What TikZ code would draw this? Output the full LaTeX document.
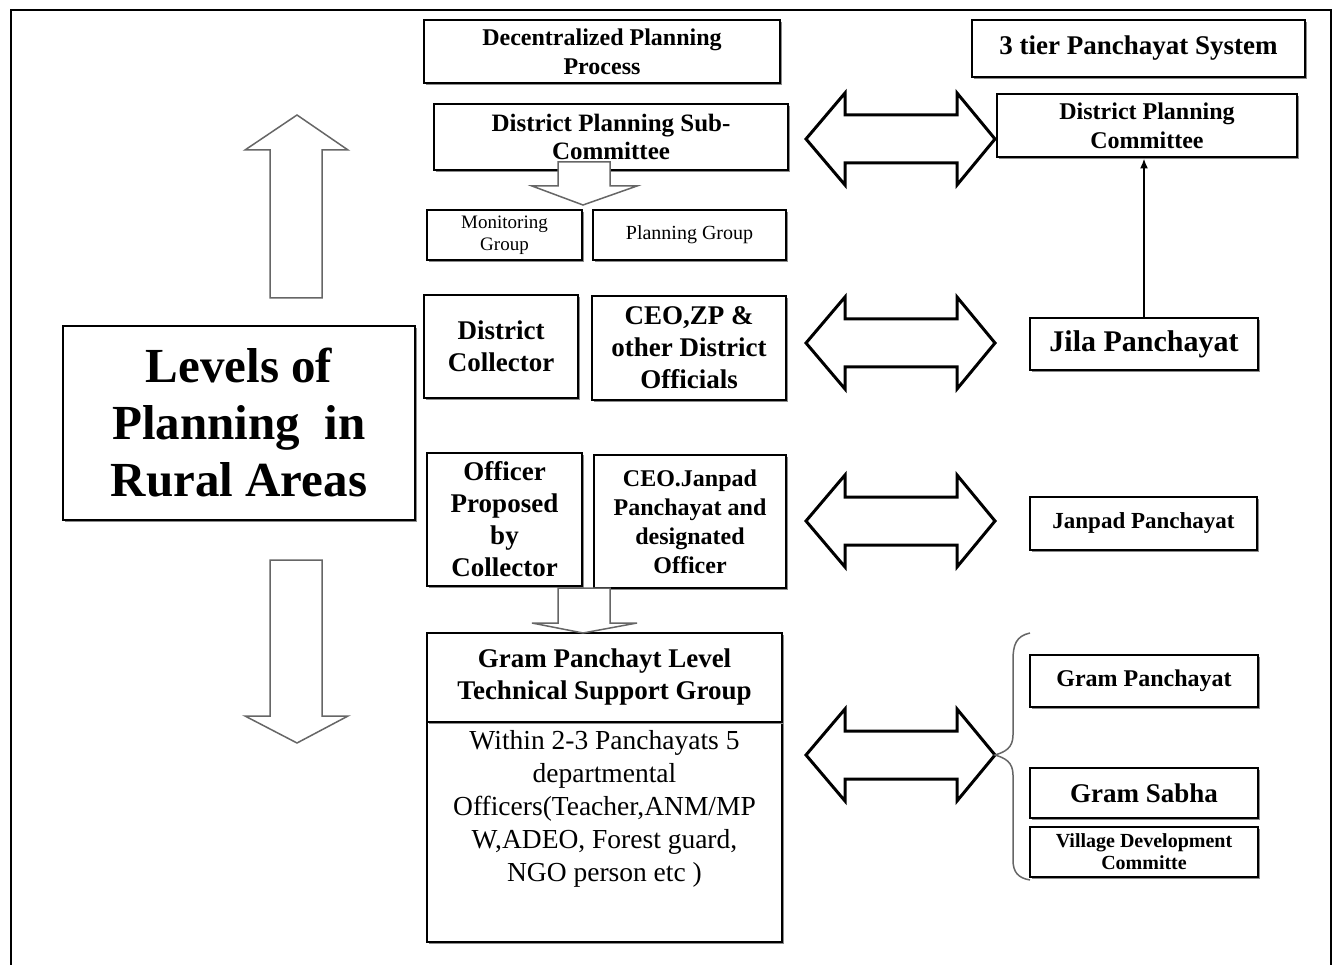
\documentclass[tikz,border=0pt]{standalone}
\usepackage{fontspec}
\setmainfont{Liberation Serif}
\usetikzlibrary{shadows,arrows.meta}
\tikzset{
  x=1pt,y=1pt,
  box/.style={draw, line width=2.8pt, fill=white, align=center, inner sep=0pt,
    drop shadow={shadow xshift=2pt, shadow yshift=-2pt, fill=black!45, opacity=1}},
  thinbox/.style={box, line width=2pt},
  dbl/.style={draw, line width=3pt, fill=white, line join=miter},
  blockarrow/.style={draw=black!60, line width=1.5pt, fill=white, line join=miter},
  bracestyle/.style={draw=black!60, line width=1.5pt},
  conn/.style={line width=2pt, -{Latex[length=10pt,width=8pt]}},
  frame/.style={line width=2pt}
}
\begin{document}
\begin{tikzpicture}
\useasboundingbox (0,0) rectangle (1336,-965);
% outer frame
\draw[frame] (11,-965) -- (11,-10) -- (1331,-10) -- (1331,-965);

% left block arrows
\draw[blockarrow] (270,-298) -- (270,-150) -- (245,-150) -- (297,-115) -- (348,-150) -- (322,-150) -- (322,-298) -- cycle;
\draw[blockarrow] (270,-560) -- (270,-716) -- (245,-716) -- (297,-743) -- (348,-716) -- (322,-716) -- (322,-560) -- cycle;

% nodes
\node[box, minimum width=356, minimum height=63, font=\fontsize{24}{29}\selectfont\bfseries] (dpp) at (602,-51.5) {Decentralized Planning\\Process};
\node[box, minimum width=333, minimum height=57, font=\fontsize{27}{30}\selectfont\bfseries] (tier) at (1138.5,-48.5) {3 tier Panchayat System};
\node[box, minimum width=354, minimum height=66, font=\fontsize{25}{28}\selectfont\bfseries] (dpsc) at (611,-137) {District Planning Sub-\\Committee};
\node[box, minimum width=300, minimum height=63, font=\fontsize{24}{29}\selectfont\bfseries] (dpc) at (1147,-125.5) {District Planning\\Committee};
\node[box, minimum width=155, minimum height=50, font=\fontsize{19}{22}\selectfont] (mon) at (504.5,-235) {Monitoring\\Group};
\node[box, minimum width=193, minimum height=50, font=\fontsize{20}{22}\selectfont] (plan) at (689.5,-235) {Planning Group};
\node[box, minimum width=352, minimum height=194, font=\fontsize{49}{57}\selectfont\bfseries] (levels) at (239,-423) {Levels of\\Planning~~in\\Rural Areas};
\node[box, minimum width=154, minimum height=103, font=\fontsize{27}{32}\selectfont\bfseries] (coll) at (501,-346.5) {District\\Collector};
\node[box, minimum width=194, minimum height=104, font=\fontsize{27}{32}\selectfont\bfseries] (ceozp) at (689,-348) {CEO,ZP \&\\other District\\Officials};
\node[thinbox, minimum width=228, minimum height=52, font=\fontsize{30}{32}\selectfont\bfseries] (jila) at (1144,-344) {Jila Panchayat};
\node[thinbox, minimum width=227, minimum height=53, font=\fontsize{23}{26}\selectfont\bfseries] (janpad) at (1143.5,-523.5) {Janpad Panchayat};
\node[thinbox, minimum width=155, minimum height=133, font=\fontsize{27}{32}\selectfont\bfseries] (off) at (504.5,-519.5) {Officer\\Proposed\\by\\Collector};
\node[thinbox, minimum width=192, minimum height=133, font=\fontsize{24}{29}\selectfont\bfseries] (ceoj) at (690,-521.5) {CEO.Janpad\\Panchayat and\\designated\\Officer};
\node[box, minimum width=355, minimum height=220] (gbot) at (604.5,-832) {};
\node[box, minimum width=355, minimum height=89, font=\fontsize{27}{32}\selectfont\bfseries] (gtop) at (604.5,-677.5) {Gram Panchayt Level\\Technical Support Group};
\node[anchor=north, align=center, inner sep=0pt, font=\fontsize{27.5}{33}\selectfont] (gtext) at ([yshift=-10]gbot.north) {Within 2-3 Panchayats 5\\departmental\\Officers(Teacher,ANM/MP\\W,ADEO, Forest guard,\\NGO person etc )};
\node[box, minimum width=228, minimum height=52, font=\fontsize{24}{26}\selectfont\bfseries] (gp) at (1144,-681) {Gram Panchayat};
\node[box, minimum width=228, minimum height=50, font=\fontsize{27}{30}\selectfont\bfseries] (gs) at (1144,-793) {Gram Sabha};
\node[thinbox, minimum width=228, minimum height=50, font=\fontsize{20}{22}\selectfont\bfseries] (vdc) at (1144,-852) {Village Development\\Committe};

% small block arrows
\draw[blockarrow] (558,-162) -- (558,-186) -- (532,-186) -- (583,-205) -- (637,-186) -- (610,-186) -- (610,-162) -- cycle;
\draw[blockarrow] (558,-588) -- (558,-623) -- (532,-623) -- (583,-633) -- (637,-623) -- (610,-623) -- (610,-588) -- cycle;

% double arrows
\foreach \cy in {139,343,521,755}{
  \draw[dbl] (806,-\cy) -- (845,-\cy+46) -- (845,-\cy+24) -- (957,-\cy+24) -- (957,-\cy+46) -- (995,-\cy) -- (957,-\cy-46) -- (957,-\cy-24) -- (845,-\cy-24) -- (845,-\cy-46) -- cycle;
}

% Jila -> DPC
\draw[conn] (jila.north) -- (jila.north |- dpc.south);

% brace
\draw[bracestyle] (1030,-633) .. controls (1016,-636) and (1013,-645) .. (1013,-660) -- (1013,-735) .. controls (1013,-748) and (1005,-752) .. (995,-755) .. controls (1005,-758) and (1013,-762) .. (1013,-775) -- (1013,-860) .. controls (1013,-872) and (1018,-878) .. (1030,-880);
\end{tikzpicture}
\end{document}
